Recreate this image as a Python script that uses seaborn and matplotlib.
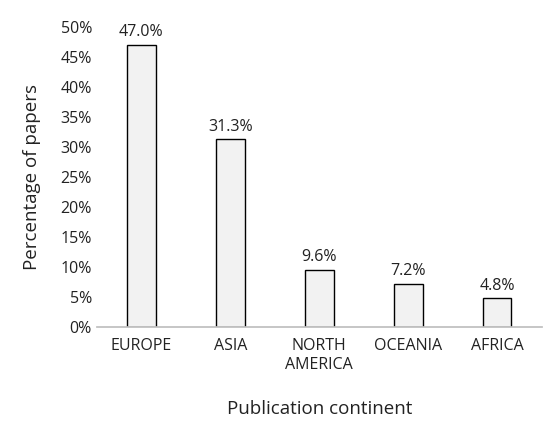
import matplotlib
matplotlib.use("Agg")
import matplotlib.pyplot as plt
import seaborn as sns
import pandas as pd
from matplotlib.ticker import PercentFormatter

categories = ["EUROPE", "ASIA", "NORTH\nAMERICA", "OCEANIA", "AFRICA"]
values = [47.0, 31.3, 9.6, 7.2, 4.8]

sns.set_theme(style="white")
plt.rcParams['font.family'] = ['Open Sans', 'DejaVu Sans']
df = pd.DataFrame({"cat": categories, "val": values})

fig = plt.figure(figsize=(5.5, 4.38), dpi=100)
ax = fig.add_axes([0.176, 0.253, 0.809, 0.685])
sns.barplot(data=df, x="cat", y="val", ax=ax, color="#f2f2f2",
            edgecolor="black", linewidth=1, width=0.32, saturation=1)
for i, v in enumerate(values):
    ax.text(i, v + 0.8, f"{v:.1f}%", ha="center", va="bottom", fontsize=11.5, color="#222")
ax.set_ylim(0, 50)
ax.set_yticks(range(0, 51, 5))
ax.yaxis.set_major_formatter(PercentFormatter(decimals=0))
ax.tick_params(axis="both", labelsize=11.5, colors="#222", length=0)
ax.tick_params(axis="x", pad=8)
for s in ["top", "right", "left"]:
    ax.spines[s].set_visible(False)
ax.spines["bottom"].set_color("#bfbfbf")
ax.set_xlabel("Publication continent", fontsize=13.5, labelpad=20, color="#222")
ax.set_ylabel("Percentage of papers", fontsize=13.5, labelpad=14, color="#222")
fig.savefig("out.png", dpi=100)
